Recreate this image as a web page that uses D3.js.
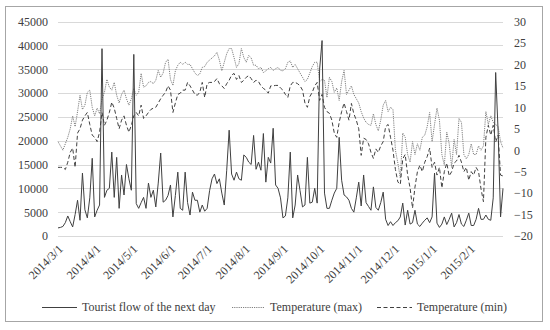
<!DOCTYPE html>
<html lang="en">
<head>
<meta charset="UTF-8">
<title>Tourist flow and temperature</title>
<script src="https://d3js.org/d3.v7.min.js" charset="utf-8"></script>
<style>
  body { margin: 0; background: #fff; }
  svg text { font-family: "Times New Roman", "Liberation Serif", "DejaVu Serif", serif; font-size: 12px; fill: #404040; }
</style>
</head>
<body>
<div id="my_dataviz"></div>
<script>
// one value every second day, starting on this date
const startDate = "2014-03-01";
const stepDays = 2;

const touristFlow = [
  1700,1800,2000,2800,4200,3000,1900,4500,7500,3300,
  13200,5500,3800,8000,16300,4000,5400,6500,39300,8100,
  9600,10000,17600,8100,16500,5800,12800,8600,15000,12000,
  9600,38100,6800,5800,7000,8100,5800,11100,8100,9600,
  6100,11100,17400,7100,7500,8500,10700,4000,8500,13400,
  5800,5400,13400,7000,4400,9200,7500,7500,5000,6500,
  5200,5800,9500,12000,13000,11000,12000,9000,6500,13800,
  22200,13000,11700,13400,12000,11700,17000,16500,15500,15000,
  21100,14000,15500,13800,21500,11300,16500,15300,22600,10700,
  10000,8000,3800,4200,8000,17600,3800,6500,12800,9500,
  6100,6500,16500,6900,7100,10000,6900,35000,41000,9000,
  5800,5800,7500,9000,10000,20700,11700,8600,8200,7500,
  5800,5000,8000,11300,6300,12800,7000,6200,5400,10300,
  6000,5400,7000,9200,3500,2200,3000,2200,2800,3200,
  4000,6900,2300,5400,2500,2800,5400,2500,2000,2700,
  3300,3800,2800,4000,13200,2700,1800,2500,4000,2400,
  3500,4800,1900,2800,4500,2500,2000,3300,4800,2200,
  2200,3500,5800,3500,3500,4400,3500,3300,8000,34300,
  22000,4000,10000
];

const tempMax = [
  2,1,0,1.5,3,5,8,5.5,9,12.8,
  9.5,10.5,13.5,14,10,8,9.8,8.5,12,13.5,
  16.5,14.7,14,15.8,12.8,11,13,14,12,10.5,
  12,14.4,12.8,13.5,17.9,14.7,15,15.8,16,15.5,
  16.3,18.6,17,18,20.5,21.2,16.5,15.1,18.5,19.8,
  20.5,20,20.5,20,20,19,18,17.4,17.8,19.3,
  19.5,20.5,21,21.5,22,22.8,21,18.5,20.5,22.5,
  23.7,23.7,21.6,19.3,20.2,23.7,21.6,20.5,22.1,21.5,
  19.8,19.8,19,19.3,18.1,18.5,19,19.3,18.6,19,
  19.3,18.6,18.5,19,20.5,20.8,19.3,20,19,18,
  17,16,16.5,18,19.5,20.5,20.5,16,16.5,16.3,
  12.3,17,16,13.5,14.5,11.6,16,18.6,13,14,
  15,13,12,11,9,7.5,6.5,6,5.8,8.5,
  6,4.5,7,10.5,11.6,9,10,9.5,0,-3,
  -6.5,4,3,-1,-2.8,2,-1,1.5,0,3,
  3.5,5.5,8.8,2,6,9.8,7,-1,-3.5,4.2,
  1.5,-4,2.5,-1,7.4,6.5,-1,-2,-1,1.5,
  -1,-1,1,0,1,9,6,8,6.5,6,
  5.5,2,0.5
];

const tempMin = [
  -4,-4,-4,-4.5,-2.8,-0.5,0.5,-4,4,5,
  7,8,8.8,6,3.5,3,2,4.2,8.8,5.8,
  7,8.8,11.2,9.8,7.4,5,7,8,5.8,4.2,
  5.8,8,8.8,8,10.5,7.4,8,8.8,9.5,9.8,
  10,11,12,12.8,13.5,15,14,8.8,11,13,
  13.3,14,14,15.8,15,14,13,12.8,13.5,15.8,
  12.3,15.5,15.8,15.8,16,16.7,15.5,15,14.4,15.5,
  16.3,17.5,17.9,16.5,17.4,15.8,16.3,17,17.4,16.7,
  15.8,16.3,16,15,14.4,14,13.3,15,15,15.1,
  15.1,14.5,14,13,12.3,15,15.8,15.8,15.5,15,
  14,11,10,12.5,13.5,15,15.8,11.6,13,10,
  9,8.6,7,4,3,6.5,9,11,9,7,
  10.9,8.5,7,5,-1.2,2.8,2.5,1.5,-0.5,-1.9,
  0.3,-0.5,1,2,5.5,6,3,0,-4.5,-7.4,
  -8,-2,-1,-5.8,-8.8,-13.5,-8.6,-5,-3.5,-5,
  -2.8,-1.5,0.5,-4,-2.8,-5.8,-4,-8.8,-5,-3,
  -6,-5,-3,-2.5,-1.2,-2.8,-5,-4,-7,-5,
  -5.8,-4,-5,-9,-12,3,5.8,3.5,5.8,1.9,
  3.5,-5.8,-6
];

const flowTicks = [0, 5000, 10000, 15000, 20000, 25000, 30000, 35000, 40000, 45000];
const tempTicks = [-20, -15, -10, -5, 0, 5, 10, 15, 20, 25, 30];
const seriesNames = ["Tourist flow of the next day", "Temperature (max)", "Temperature (min)"];

const width = 550, height = 330;
const plotLeft = 58, plotRight = 503, plotTop = 21.5, plotBottom = 236;
const serif = '"Times New Roman", "Liberation Serif", "DejaVu Serif", serif';

const parseDate = d3.timeParse("%Y-%m-%d");
const first = parseDate(startDate);
const dates = touristFlow.map((v, i) => d3.timeDay.offset(first, i * stepDays));

const svg = d3.select("#my_dataviz")
  .append("svg")
    .attr("width", width)
    .attr("height", height)
    .attr("font-family", serif);

// outer frame
svg.append("rect")
  .attr("x", 5.5).attr("y", 6.5)
  .attr("width", 537).attr("height", 315)
  .attr("fill", "none")
  .attr("stroke", "#a6a6a6");

const x = d3.scaleTime()
  .domain([dates[0], dates[dates.length - 1]])
  .range([plotLeft, plotRight]);

const yFlow = d3.scaleLinear().domain([0, 45000]).range([plotBottom, plotTop]);
const yTemp = d3.scaleLinear().domain([-20, 30]).range([plotBottom, plotTop]);

// gridlines
svg.append("g")
  .selectAll("line")
  .data(flowTicks)
  .join("line")
    .attr("x1", plotLeft).attr("x2", plotRight)
    .attr("y1", d => Math.round(yFlow(d)) + 0.5)
    .attr("y2", d => Math.round(yFlow(d)) + 0.5)
    .attr("stroke", "#d9d9d9");

// left axis
const axisLeft = svg.append("g")
  .attr("transform", `translate(${plotLeft},0)`)
  .call(d3.axisLeft(yFlow).tickValues(flowTicks).tickSize(0).tickPadding(10).tickFormat(d3.format("d")));
axisLeft.select(".domain").remove();

// right axis
const axisRight = svg.append("g")
  .attr("transform", `translate(${plotRight},0)`)
  .call(d3.axisRight(yTemp).tickValues(tempTicks).tickSize(0).tickPadding(11).tickFormat(d3.format("d")));
axisRight.select(".domain").remove();

svg.selectAll(".tick text")
  .style("font-family", serif)
  .style("font-size", "12px")
  .attr("fill", "#404040");
axisLeft.attr("font-family", serif);
axisRight.attr("font-family", serif);

// month labels along the bottom, turned 45 degrees
const months = d3.timeMonth.range(first, dates[dates.length - 1]);
const fmt = d3.timeFormat("%Y/%-m/%-d");
svg.append("g")
  .selectAll("text")
  .data(months)
  .join("text")
    .attr("transform", d => `translate(${x(d) + 3},${plotBottom + 11}) rotate(-45)`)
    .attr("text-anchor", "end")
    .attr("dy", "0.32em")
    .text(d => fmt(d));

// the three series
const rows = dates.map((d, i) => ({date: d, flow: touristFlow[i], max: tempMax[i], min: tempMin[i]}));

const lineMax = d3.line().x(d => x(d.date)).y(d => yTemp(d.max));
const lineMin = d3.line().x(d => x(d.date)).y(d => yTemp(d.min));
const lineFlow = d3.line().x(d => x(d.date)).y(d => yFlow(d.flow));

const styles = [
  {stroke: "#404040", dash: null, width: 1},
  {stroke: "#808080", dash: "1.2,1", width: 1},
  {stroke: "#404040", dash: "4,2.5", width: 1}
];

svg.append("path")
  .datum(rows)
  .attr("d", lineMax)
  .attr("fill", "none")
  .attr("stroke", styles[1].stroke)
  .attr("stroke-width", styles[1].width)
  .attr("stroke-dasharray", styles[1].dash);

svg.append("path")
  .datum(rows)
  .attr("d", lineMin)
  .attr("fill", "none")
  .attr("stroke", styles[2].stroke)
  .attr("stroke-width", styles[2].width)
  .attr("stroke-dasharray", styles[2].dash);

svg.append("path")
  .datum(rows)
  .attr("d", lineFlow)
  .attr("fill", "none")
  .attr("stroke", styles[0].stroke)
  .attr("stroke-width", styles[0].width);

// legend
const legendX = [42, 232, 377];
const legend = svg.append("g")
  .selectAll("g")
  .data(seriesNames)
  .join("g")
    .attr("transform", (d, i) => `translate(${legendX[i]},307)`);

legend.append("line")
  .attr("x1", 0).attr("x2", (d, i) => i == 1 ? 32 : 35)
  .attr("y1", 0.5).attr("y2", 0.5)
  .attr("stroke", (d, i) => styles[i].stroke)
  .attr("stroke-width", (d, i) => styles[i].width)
  .attr("stroke-dasharray", (d, i) => styles[i].dash);

legend.append("text")
  .attr("x", (d, i) => i == 1 ? 38 : 40)
  .attr("dy", "0.35em")
  .text(d => d);
</script>
</body>
</html>
